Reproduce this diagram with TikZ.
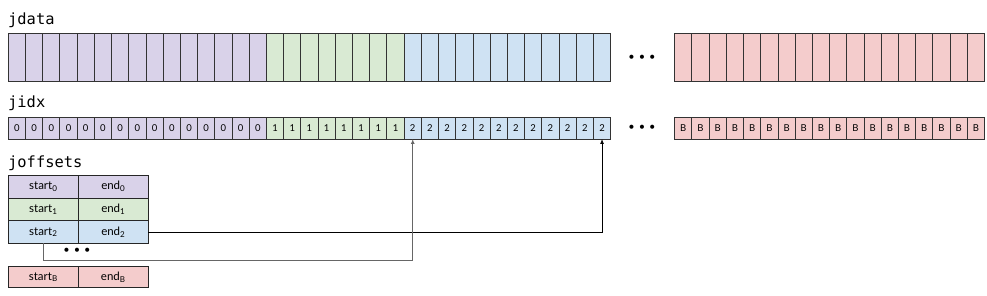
\documentclass[tikz,border=0pt]{standalone}
\usepackage{fontspec}
\setmainfont{Lato}
\newfontfamily\codefont{DejaVu Sans Mono}
\usetikzlibrary{positioning,calc,arrows.meta}
\definecolor{grpA}{HTML}{D9D2E9}
\definecolor{grpB}{HTML}{D9EAD3}
\definecolor{grpC}{HTML}{CFE2F3}
\definecolor{grpL}{HTML}{F4CCCC}
\newcommand{\cellw}{17.21}
\tikzset{
arrname/.style={font=\codefont\fontsize{15.4}{18}\selectfont,inner sep=0pt,anchor=base west},
datacell/.style={draw=black!80,line width=0.9pt,minimum width=17.21pt,minimum height=47.7pt,inner sep=0pt,outer sep=0pt,anchor=north west},
idxcell/.style={draw=black!80,line width=0.9pt,minimum width=17.21pt,minimum height=21.7pt,inner sep=0pt,outer sep=0pt,anchor=north west,font=\fontsize{9.5}{10}\selectfont},
offcell/.style={draw=black!85,line width=0.9pt,minimum width=70pt,minimum height=22.7pt,inner sep=0pt,outer sep=0pt,font=\fontsize{11.5}{12}\selectfont},
ellip/.style={font=\fontsize{11}{12}\selectfont,inner sep=0pt},
endlink/.style={-{Latex[length=5pt,width=4pt]},black,line width=0.8pt},
startlink/.style={-{Latex[length=5pt,width=4pt]},black!60,line width=1.1pt}
}
\newcommand{\dotrow}{\textbullet\hspace{4pt}\textbullet\hspace{4pt}\textbullet}

\begin{document}
\begin{tikzpicture}[x=1pt,y=-1pt]
\useasboundingbox (0,0) rectangle (987,296);
\node[arrname] (jdataname) at (8,25) {jdata};
\node[arrname] (jidxname) at (8,108) {jidx};
\node[arrname] (joffname) at (8,168) {joffsets};
\foreach \first/\last/\col/\val in {1/15/grpA/0,16/23/grpB/1,24/35/grpC/2}{
  \foreach \i in {\first,...,\last}{
    \node[datacell,fill=\col] (jd-\i) at ({8.3+(\i-1)*\cellw},33.3) {};
    \node[idxcell,fill=\col] (ji-\i) at ({8.3+(\i-1)*\cellw},117.3) {\val};
  }
}
\foreach \i in {1,...,18}{
  \node[datacell,fill=grpL] (jdB-\i) at ({674.7+(\i-1)*\cellw},33.3) {};
  \node[idxcell,fill=grpL] (jiB-\i) at ({674.7+(\i-1)*\cellw},117.3) {B};
}
\node[ellip] (jddots) at (642,58) {\dotrow};
\node[ellip] (jidots) at (642,128) {\dotrow};
\node[offcell,fill=grpA,anchor=north west] (start0) at (8.3,175.3) {start\textsubscript{0}};
\node[offcell,fill=grpA,right=0pt of start0] (end0) {end\textsubscript{0}};
\node[offcell,fill=grpB,below=0pt of start0] (start1) {start\textsubscript{1}};
\node[offcell,fill=grpB,right=0pt of start1] (end1) {end\textsubscript{1}};
\node[offcell,fill=grpC,below=0pt of start1] (start2) {start\textsubscript{2}};
\node[offcell,fill=grpC,right=0pt of start2] (end2) {end\textsubscript{2}};
\node[ellip] (offdots) at (77,251) {\dotrow};
\node[offcell,fill=grpL,minimum height=20.7pt,anchor=north west] (startB) at (8.3,266.7) {start\textsubscript{B}};
\node[offcell,fill=grpL,minimum height=20.7pt,right=0pt of startB] (endB) {end\textsubscript{B}};
\draw[endlink] (end2.east) -| (ji-35.south);
\draw[startlink] (start2.south) -- ++(0,17) -| (ji-24.south);
\end{tikzpicture}
\end{document}
